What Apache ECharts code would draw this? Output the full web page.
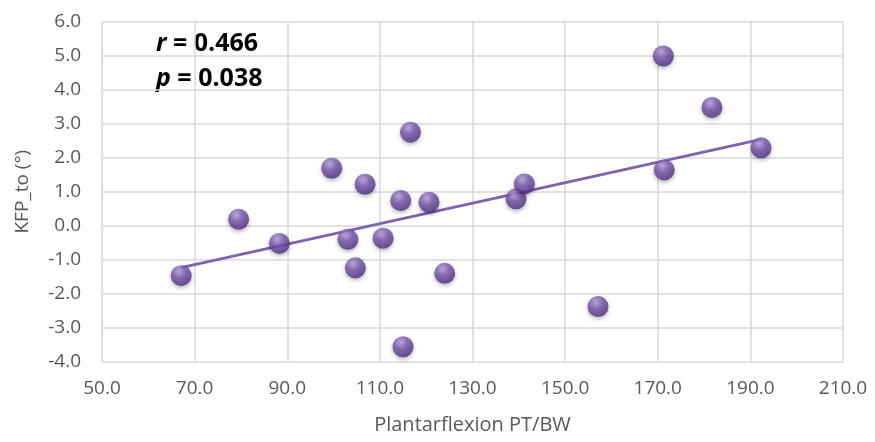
<!DOCTYPE html>
<html><head><meta charset="utf-8">
<script src="https://cdn.jsdelivr.net/npm/echarts@6/dist/echarts.min.js"></script>
<style>html,body{margin:0;padding:0;background:#fff}#c{width:875px;height:442px}</style>
</head><body><div id="c"></div>
<script>
const ptbw = [67.1, 79.5, 88.3, 99.6, 106.8, 116.6, 114.5, 120.6, 103.1, 110.7, 104.7, 124.0, 115.0, 139.4, 141.2, 171.2, 181.7, 192.3, 171.4, 157.1];
const kfp  = [-1.47, 0.19, -0.52, 1.69, 1.22, 2.75, 0.74, 0.69, -0.40, -0.37, -1.24, -1.40, -3.56, 0.79, 1.23, 4.99, 3.48, 2.29, 1.64, -2.38];
const xTicks = [50, 70, 90, 110, 130, 150, 170, 190, 210];
const yTicks = [-4, -3, -2, -1, 0, 1, 2, 3, 4, 5, 6];
const statLines = [['r', '0.466'], ['p', '0.038']];

const pts = ptbw.map((x, i) => [x, kfp[i]]);
// least-squares trend line (as Excel trendline)
const n = ptbw.length;
const mx = ptbw.reduce((a, b) => a + b, 0) / n;
const my = kfp.reduce((a, b) => a + b, 0) / n;
let sxy = 0, sxx = 0;
for (let i = 0; i < n; i++) { sxy += (ptbw[i] - mx) * (kfp[i] - my); sxx += (ptbw[i] - mx) ** 2; }
const slope = sxy / sxx, icpt = my - slope * mx;
const xmin = Math.min(...ptbw), xmax = Math.max(...ptbw);
const trend = [[xmin, icpt + slope * xmin], [xmax, icpt + slope * xmax]];

const font = '"Open Sans", "Liberation Sans", sans-serif';
const fs = 19;
const chart = echarts.init(document.getElementById('c'));
chart.setOption({
  animation: false,
  grid: { left: 102, right: 32, top: 21.7, bottom: 80.3 },
  xAxis: {
    type: 'value', min: xTicks[0], max: xTicks[xTicks.length - 1], interval: 20,
    name: 'Plantarflexion PT/BW', nameLocation: 'middle', nameGap: 54,
    nameTextStyle: { color: '#595959', fontSize: 20, fontFamily: font },
    axisLine: { show: false }, axisTick: { show: false },
    axisLabel: { color: '#595959', fontSize: fs, fontFamily: font, margin: 17, formatter: v => v.toFixed(1) },
    splitLine: { show: true, lineStyle: { color: '#d9d9d9', width: 1.5 } }
  },
  yAxis: {
    type: 'value', min: yTicks[0], max: yTicks[yTicks.length - 1], interval: 1,
    name: 'KFP_to (°)', nameLocation: 'middle', nameGap: 70, nameRotate: 90,
    nameTextStyle: { color: '#595959', fontSize: fs, fontFamily: font },
    axisLine: { show: false }, axisTick: { show: false },
    axisLabel: { color: '#595959', fontSize: fs, fontFamily: font, margin: 21, formatter: v => v.toFixed(1) },
    splitLine: { show: true, lineStyle: { color: '#d9d9d9', width: 1.5 } }
  },
  graphic: statLines.map((s, i) => ({
    type: 'text', left: 156, top: 31 + i * 35.5,
    style: {
      text: '{i|' + s[0] + '}{b| = ' + s[1] + '}',
      rich: {
        i: { fontSize: 25, fontWeight: 'bold', fontStyle: 'italic', fontFamily: font, fill: '#000' },
        b: { fontSize: 25, fontWeight: 'bold', fontFamily: font, fill: '#000' }
      }
    }
  })),
  series: [
    {
      type: 'line', data: trend, symbol: 'none', z: 2,
      lineStyle: { color: '#7f63b0', width: 3 }
    },
    {
      type: 'scatter', data: pts, symbolSize: 21, z: 3,
      itemStyle: {
        color: {
          type: 'radial', x: 0.4, y: 0.3, r: 0.7,
          colorStops: [{ offset: 0, color: '#b7a2dc' }, { offset: 0.45, color: '#7654ad' }, { offset: 1, color: '#4e2f82' }]
        },
        shadowColor: 'rgba(0,0,0,0.35)', shadowBlur: 4, shadowOffsetY: 2
      }
    }
  ]
});
</script></body></html>
